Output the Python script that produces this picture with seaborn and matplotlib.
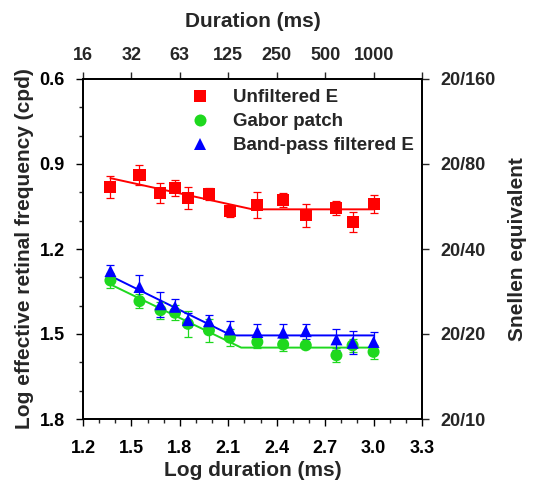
import numpy as np
import pandas as pd
import matplotlib
matplotlib.use("Agg")
import matplotlib.pyplot as plt
from matplotlib.ticker import MultipleLocator
import seaborn as sns

# ---------------- data ----------------
log_dur = [1.37, 1.55, 1.68, 1.77, 1.85, 1.98, 2.11, 2.28, 2.44, 2.58, 2.77, 2.87, 3.00]

unfilt_y = [0.981, 0.939, 1.003, 0.985, 1.021, 1.007, 1.066, 1.046, 1.027, 1.081, 1.055, 1.106, 1.042]
unfilt_err = [0.039, 0.035, 0.036, 0.029, 0.039, 0.021, 0.022, 0.046, 0.026, 0.040, 0.024, 0.035, 0.032]

gabor_y = [1.311, 1.384, 1.416, 1.425, 1.464, 1.487, 1.513, 1.528, 1.537, 1.540, 1.575, 1.540, 1.563]
gabor_err = [0.025, 0.026, 0.030, 0.027, 0.046, 0.040, 0.031, 0.020, 0.024, 0.010, 0.024, 0.024, 0.025]

band_y = [1.278, 1.334, 1.395, 1.404, 1.451, 1.455, 1.484, 1.493, 1.495, 1.490, 1.519, 1.531, 1.528]
band_err = [0.020, 0.042, 0.044, 0.029, 0.026, 0.022, 0.030, 0.028, 0.031, 0.026, 0.036, 0.040, 0.035]

# bilinear fits (breakpoints)
unfilt_fit_x = [1.37, 2.25, 3.00]
unfilt_fit_y = [0.950, 1.060, 1.060]
gabor_fit_x = [1.37, 2.18, 3.00]
gabor_fit_y = [1.325, 1.548, 1.548]
band_fit_x = [1.37, 2.12, 3.00]
band_fit_y = [1.295, 1.505, 1.505]

series = ["Unfiltered E", "Gabor patch", "Band-pass filtered E"]

x_ticks = [1.2, 1.5, 1.8, 2.1, 2.4, 2.7, 3.0, 3.3]
x_ticklabels = ["1.2", "1.5", "1.8", "2.1", "2.4", "2.7", "3.0", "3.3"]
top_ticklabels = ["16", "32", "63", "125", "250", "500", "1000", ""]
y_ticks = [0.6, 0.9, 1.2, 1.5, 1.8]
y_ticklabels = ["0.6", "0.9", "1.2", "1.5", "1.8"]
snellen_labels = ["20/160", "20/80", "20/40", "20/20", "20/10"]

# ---------------- styling ----------------
sns.set_theme(style="ticks")
plt.rcParams["font.family"] = ["Liberation Sans", "DejaVu Sans"]
plt.rcParams["font.weight"] = "bold"
plt.rcParams["axes.labelweight"] = "bold"

colors = {"Unfiltered E": "#ff0000", "Gabor patch": "#1ed81e", "Band-pass filtered E": "#0000ff"}
markers = {"Unfiltered E": "s", "Gabor patch": "o", "Band-pass filtered E": "^"}

pts = pd.DataFrame({
    "x": log_dur * 3,
    "y": unfilt_y + gabor_y + band_y,
    "err": unfilt_err + gabor_err + band_err,
    "series": [series[0]] * len(log_dur) + [series[1]] * len(log_dur) + [series[2]] * len(log_dur),
})
fits = pd.DataFrame({
    "x": unfilt_fit_x + gabor_fit_x + band_fit_x,
    "y": unfilt_fit_y + gabor_fit_y + band_fit_y,
    "series": [series[0]] * 3 + [series[1]] * 3 + [series[2]] * 3,
})

fig = plt.figure(figsize=(5.33, 4.86), dpi=100)
ax = fig.add_axes([83 / 533, 1 - 419 / 486, 339 / 533, 340 / 486])

# fit lines
sns.lineplot(data=fits, x="x", y="y", hue="series", palette=colors, hue_order=series,
             linewidth=1.4, legend=False, ax=ax, sort=False, estimator=None)

# error bars
for s in series:
    d = pts[pts["series"] == s]
    ax.errorbar(d["x"], d["y"], yerr=d["err"], fmt="none", ecolor=colors[s],
                elinewidth=0.9, capsize=3, capthick=0.9, zorder=3)

# markers
sns.scatterplot(data=pts, x="x", y="y", hue="series", style="series", palette=colors,
                markers=markers, hue_order=series, style_order=series,
                s=75, linewidth=0, ax=ax, zorder=4, legend=True)

ax.set_xlim(1.2, 3.3)
ax.set_ylim(1.8, 0.6)
ax.set_xticks(x_ticks)
ax.set_xticklabels(x_ticklabels)
ax.set_yticks(y_ticks)
ax.set_yticklabels(y_ticklabels)
ax.xaxis.set_minor_locator(MultipleLocator(0.1))
ax.yaxis.set_minor_locator(MultipleLocator(0.1))
ax.tick_params(axis="both", which="major", direction="out", length=5, width=1,
               labelsize=13, colors="black")
ax.tick_params(axis="both", which="minor", direction="out", length=3, width=1)
ax.tick_params(axis="x", which="major", pad=10)
ax.tick_params(axis="y", which="major", pad=8)
ax.set_xlabel("Log duration (ms)", fontsize=15, fontweight="bold", labelpad=3)
ax.set_ylabel("Log effective retinal frequency (cpd)", fontsize=15, fontweight="bold", labelpad=4)
for sp in ax.spines.values():
    sp.set_linewidth(1.1)
    sp.set_color("black")

# top axis
axt = ax.twiny()
axt.set_xlim(ax.get_xlim())
axt.set_xticks(x_ticks)
axt.set_xticklabels(top_ticklabels)
axt.tick_params(axis="x", which="major", direction="out", length=5, width=1,
                labelsize=13, pad=6)
axt.set_xlabel("Duration (ms)", fontsize=15, fontweight="bold", labelpad=14)

# right axis
axr = ax.twinx()
axr.set_ylim(ax.get_ylim())
axr.set_yticks(y_ticks)
axr.set_yticklabels(snellen_labels)
axr.tick_params(axis="y", which="major", direction="out", length=5, width=1,
                labelsize=13, pad=8)
axr.set_ylabel("Snellen equivalent", fontsize=15, fontweight="bold", labelpad=9)
for a in (axt, axr):
    for sp in a.spines.values():
        sp.set_linewidth(1.1)
        sp.set_color("black")

# legend
h, l = ax.get_legend_handles_labels()
ax.legend(h, l, loc="upper left", bbox_to_anchor=(0.317, 0.970), frameon=False,
          fontsize=13.5, borderpad=0, borderaxespad=0, handlelength=1.0,
          handletextpad=1.25, labelspacing=0.36, markerscale=1.0)

fig.savefig("out.png", dpi=100)
